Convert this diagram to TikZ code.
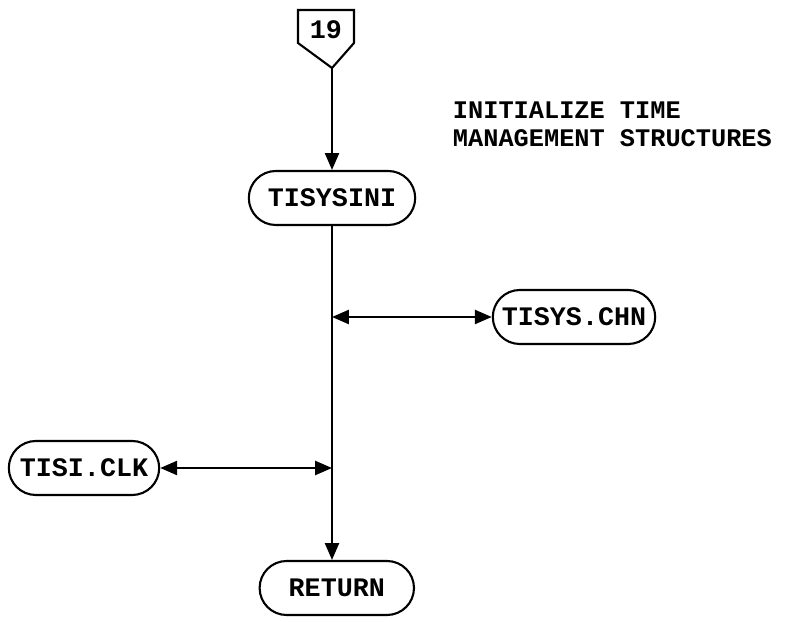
\documentclass[tikz,border=0pt]{standalone}
\usepackage{fontspec}
\setmonofont{Liberation Mono}
\usetikzlibrary{positioning}
\usetikzlibrary{arrows.meta}
\usetikzlibrary{shapes.misc}

\begin{document}
\begin{tikzpicture}[
    term/.style={rounded rectangle, draw, line width=1.5pt, minimum height=1.35cm,
                 inner sep=2pt, font=\fontsize{19}{21}\selectfont\ttfamily\bfseries},
    flow/.style={line width=1.5pt},
    >={Triangle[length=12pt, width=10pt]}
]
    \useasboundingbox (0,0) rectangle (19.675,15.55);

    % --- off-page connector ---
    \draw[flow] (7.45,14.475) -- (7.45,15.3) -- (8.85,15.3) -- (8.85,14.475) -- (8.3,13.85) -- cycle;
    \node[font=\fontsize{19}{21}\selectfont\ttfamily\bfseries] (conn19) at (8.15,14.8) {19};
    \coordinate (conn19tip) at (8.3,13.85);

    % --- routine boxes ---
    \node[term, minimum width=4.3cm] (tisysini) at (8.3,10.6) {TISYSINI};
    \node[term, minimum width=4.2cm] (tisyschn) at (14.35,7.625) {TISYS.CHN};
    \node[term, minimum width=3.9cm] (tisiclk) at (2.1,3.85) {TISI.CLK};
    \node[term, minimum width=4.0cm] (return) at (8.42,0.85) {RETURN};

    \node[anchor=west, align=left, font=\fontsize{18}{20}\selectfont\ttfamily\bfseries]
        (note) at (11.2,12.45) {INITIALIZE TIME\\MANAGEMENT STRUCTURES};

    % --- main flow ---
    \coordinate (jchn) at (8.3,7.625);
    \coordinate (jclk) at (8.3,3.85);
    \draw[flow, ->] (conn19tip) -- (tisysini.north);
    \draw[flow, ->] (tisysini.south) -- (tisysini.south |- return.north);
    \draw[flow, <->] (jchn) -- (tisyschn.west);
    \draw[flow, <->] (tisiclk.east) -- (jclk);
\end{tikzpicture}
\end{document}
